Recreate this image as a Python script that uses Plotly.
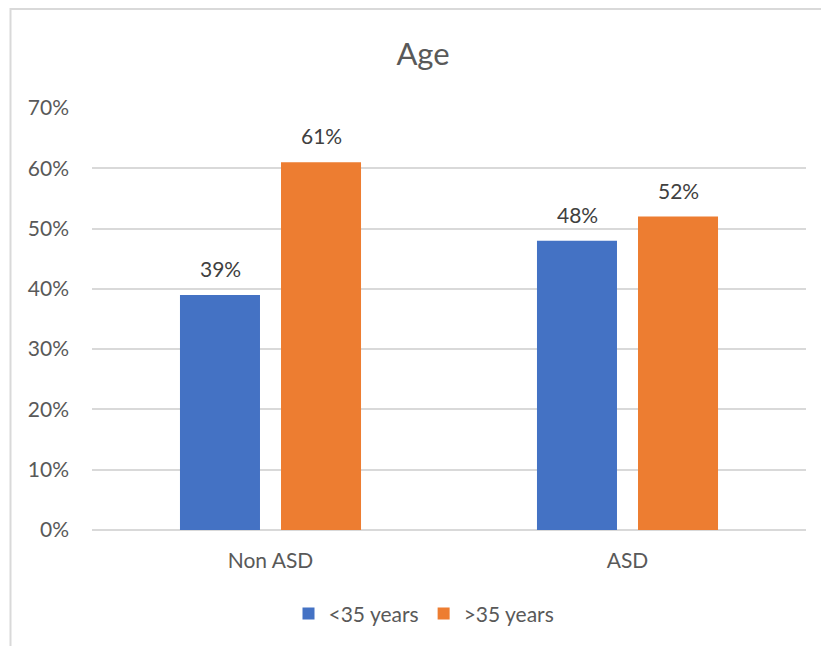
import plotly.graph_objects as go

# Share of respondents by age group
categories = ["Non ASD", "ASD"]
under_35 = [0.39, 0.48]
over_35 = [0.61, 0.52]
series_names = ["<35 years", ">35 years"]
y_ticks = [0, 0.1, 0.2, 0.3, 0.4, 0.5, 0.6, 0.7]

BLUE = "#4472C4"
ORANGE = "#ED7D31"
GRID = "#D9D9D9"
TEXT = "#595959"
FONT = "Lato"

fig = go.Figure()
for name, vals, color in [(series_names[0], under_35, BLUE),
                          (series_names[1], over_35, ORANGE)]:
    fig.add_trace(go.Bar(
        x=categories, y=vals, name=name,
        marker=dict(color=color, line=dict(width=0)),
        hoverinfo="skip",
    ))

# value labels above each bar
offset = 50.5
for vals, shift in [(under_35, -offset), (over_35, offset)]:
    for cat, v in zip(categories, vals):
        fig.add_annotation(
            x=cat, y=v, xref="x", yref="y",
            text=f"{v:.0%}", showarrow=False,
            xshift=shift, yshift=12, yanchor="bottom",
            font=dict(family=FONT, size=21, color="#404040"),
        )

# light frame around the chart area
fig.add_shape(type="rect", xref="paper", yref="paper",
              x0=(10.5 - 92) / 714, x1=1.2,
              y0=-0.5, y1=(530 - 9.5) / 421.5,
              line=dict(color=GRID, width=2), fillcolor="rgba(0,0,0,0)",
              layer="below")

fig.update_layout(
    width=821, height=646,
    margin=dict(l=92, r=15, t=108.5, b=116, pad=0),
    paper_bgcolor="white", plot_bgcolor="white",
    font=dict(family=FONT, size=21, color=TEXT),
    title=dict(text="Age", x=423 / 821, xref="container", xanchor="center",
               y=1 - 54 / 646, yref="container", yanchor="middle",
               font=dict(family=FONT, size=31, color=TEXT)),
    barmode="group", bargap=0.434, bargroupgap=0.208,
    showlegend=True,
    legend=dict(orientation="h", x=(424 - 92) / 714, xanchor="center",
                y=(530 - 614) / 421.5, yanchor="middle",
                font=dict(family=FONT, size=21, color=TEXT),
                itemwidth=30, traceorder="normal"),
    xaxis=dict(showline=False, ticks="", showgrid=False,
               tickfont=dict(family=FONT, size=21, color=TEXT), ticklabelstandoff=16),
    yaxis=dict(range=[0, 0.7], tickvals=y_ticks, tickformat=".0%",
               showgrid=True, gridcolor=GRID, gridwidth=1.5,
               zeroline=True, zerolinecolor=GRID, zerolinewidth=1.5,
               showline=False, ticks="",
               tickfont=dict(family=FONT, size=21, color=TEXT),
               ticklabelstandoff=22),
)

fig.write_html("out.html")
